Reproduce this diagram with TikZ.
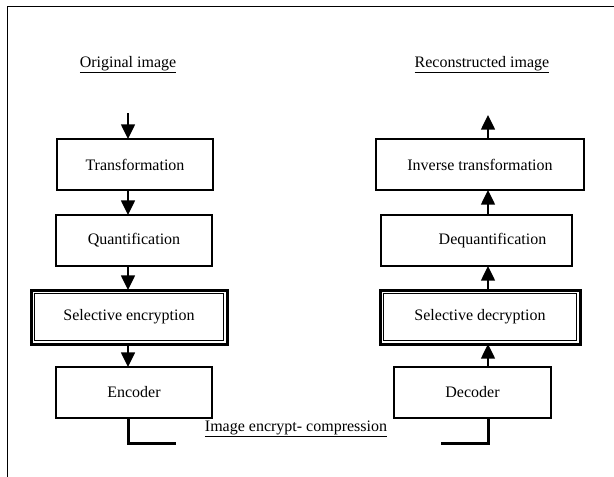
\documentclass[tikz,border=0pt]{standalone}
\usepackage{fontspec}
\setmainfont{Liberation Serif}
\usetikzlibrary{arrows.meta}
\begin{document}
\begin{tikzpicture}[x=0.75pt,y=-0.75pt,
  font=\fontsize{12}{14}\selectfont,
  box/.style 2 args={draw,line width=1.4pt,outer sep=0pt,inner sep=0pt,
    minimum width=#1*0.75pt,minimum height=#2*0.75pt,align=center},
  dbox/.style 2 args={box={#1}{#2},line width=2.25pt},
  inner/.style={draw,line width=0.7pt},
  arr/.style={line width=1.1pt,-{Triangle[length=11pt,width=10.5pt]}},
  rail/.style={line width=2.25pt},
  title/.style={anchor=base,inner sep=0pt,outer sep=0pt}]
\useasboundingbox (0,0) rectangle (614,476);
% outer frame (only its left and top edges fall inside the page)
\draw[line width=0.75pt] (7,490) |- (630,6);

% column axes for the connectors
\coordinate (cl) at (128,0);
\coordinate (cr) at (488,0);

% headings
\node[title] (hl) at (128,67) {\underline{Original image}};
\node[title] (hr) at (482,67) {\underline{Reconstructed image}};

% compression chain
\node[box={156}{51}] (tr) at (135,164.5) {Transformation};
\node[box={156}{51}] (qu) at (134,240.5) {Quantification};
\node[dbox={196}{54}] (se) at (129,317) {Selective encryption};
\node[box={156}{51}] (en) at (134,392.5) {Encoder};
\draw[inner] ([shift={(3.5,3.5)}]se.north west) rectangle ([shift={(-3.5,-3.5)}]se.south east);

% decompression chain
\node[box={208}{51}] (it) at (480,164.5) {Inverse transformation};
\node[box={191}{51}] (dq) at (476.5,240.5) {\hspace*{24pt}Dequantification};
\node[dbox={200}{54}] (sd) at (480,317) {Selective decryption};
\node[box={157}{51}] (de) at (472.5,392.5) {Decoder};
\draw[inner] ([shift={(3.5,3.5)}]sd.north west) rectangle ([shift={(-3.5,-3.5)}]sd.south east);

% flow arrows
\coordinate (inl) at (128,113);
\coordinate (outr) at (488,115);
\draw[arr] (inl) -- (tr.north -| cl);
\draw[arr] (tr.south -| cl) -- (qu.north -| cl);
\draw[arr] (qu.south -| cl) -- (se.north -| cl);
\draw[arr] (se.south -| cl) -- (en.north -| cl);
\draw[arr] (it.north -| cr) -- (outr);
\draw[arr] (dq.north -| cr) -- (it.south -| cr);
\draw[arr] (sd.north -| cr) -- (dq.south -| cr);
\draw[arr] (de.north -| cr) -- (sd.south -| cr);

% link between encoder and decoder
\coordinate (ll) at (176,443);
\coordinate (rl) at (441,443);
\draw[rail] (en.south -| cl) |- (ll);
\draw[rail] (de.south -| cr) |- (rl);
\node[title] (lk) at (296,431) {\underline{Image encrypt- compression}};
\end{tikzpicture}
\end{document}
